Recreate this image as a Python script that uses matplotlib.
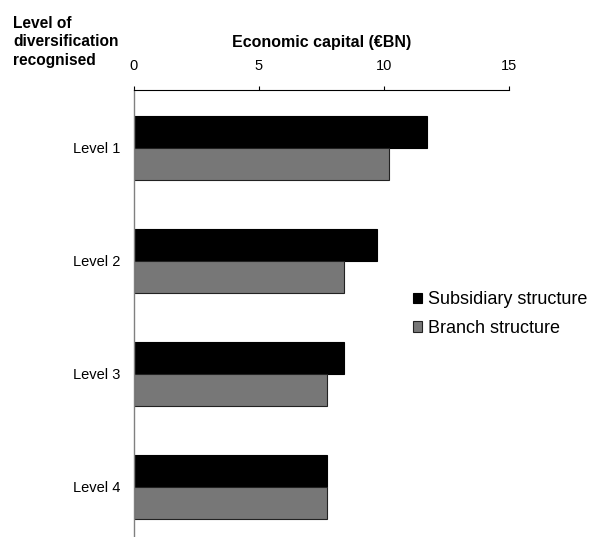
import matplotlib
matplotlib.use("Agg")
import matplotlib.pyplot as plt
from matplotlib.patches import Patch
import numpy as np

plt.rcParams['font.family'] = ['Liberation Sans', 'DejaVu Sans']

levels = ["Level 1", "Level 2", "Level 3", "Level 4"]
subsidiary = [11.7, 9.7, 8.4, 7.7]
branch = [10.2, 8.4, 7.7, 7.7]
xticks = [0, 5, 10, 15]

fig = plt.figure(figsize=(5.93, 5.37), dpi=100)
ax = fig.add_axes([134 / 593, 0.0, (509 - 134) / 593, 1 - 90 / 537])

y = np.arange(len(levels))
h = 0.283
ax.barh(y - h / 2, subsidiary, height=h, color="#000000", edgecolor="#000000",
        linewidth=0.8, label="Subsidiary structure")
ax.barh(y + h / 2, branch, height=h, color="#777777", edgecolor="#222222",
        linewidth=0.8, label="Branch structure")

ax.set_xlim(0, 15)
ax.set_ylim(3.445, -0.51)
ax.xaxis.tick_top()
ax.set_xticks(xticks)
ax.set_xticklabels([str(t) for t in xticks])
ax.tick_params(axis="x", direction="out", length=3, width=0.8, pad=9,
               labelsize=10.5, color="#000000")
ax.set_yticks(y)
ax.set_yticklabels(levels)
ax.tick_params(axis="y", length=0, pad=10, labelsize=10.5)

for s in ("right", "bottom"):
    ax.spines[s].set_visible(False)
ax.spines["top"].set_color("#000000")
ax.spines["top"].set_linewidth(0.8)
ax.spines["left"].set_color("#808080")
ax.spines["left"].set_linewidth(1.0)

fig.text(322 / 593, 1 - 42 / 537, "Economic capital (€BN)", ha="center",
         va="center", fontsize=11.5, fontweight="bold")
fig.text(13 / 593, 1 - 42 / 537, "Level of\ndiversification\nrecognised",
         ha="left", va="center", fontsize=11.2, fontweight="bold", linespacing=1.25)

handles = [Patch(facecolor="#000000", edgecolor="#000000", linewidth=0.8),
           Patch(facecolor="#777777", edgecolor="#222222", linewidth=0.8)]
fig.legend(handles, ["Subsidiary structure", "Branch structure"],
           loc="center left", bbox_to_anchor=(400 / 593, 1 - 314 / 537),
           frameon=False, fontsize=13.0, handlelength=0.5, handleheight=0.5,
           handletextpad=0.35, labelspacing=0.65, borderpad=0.2)

fig.savefig("out.png", dpi=100)
